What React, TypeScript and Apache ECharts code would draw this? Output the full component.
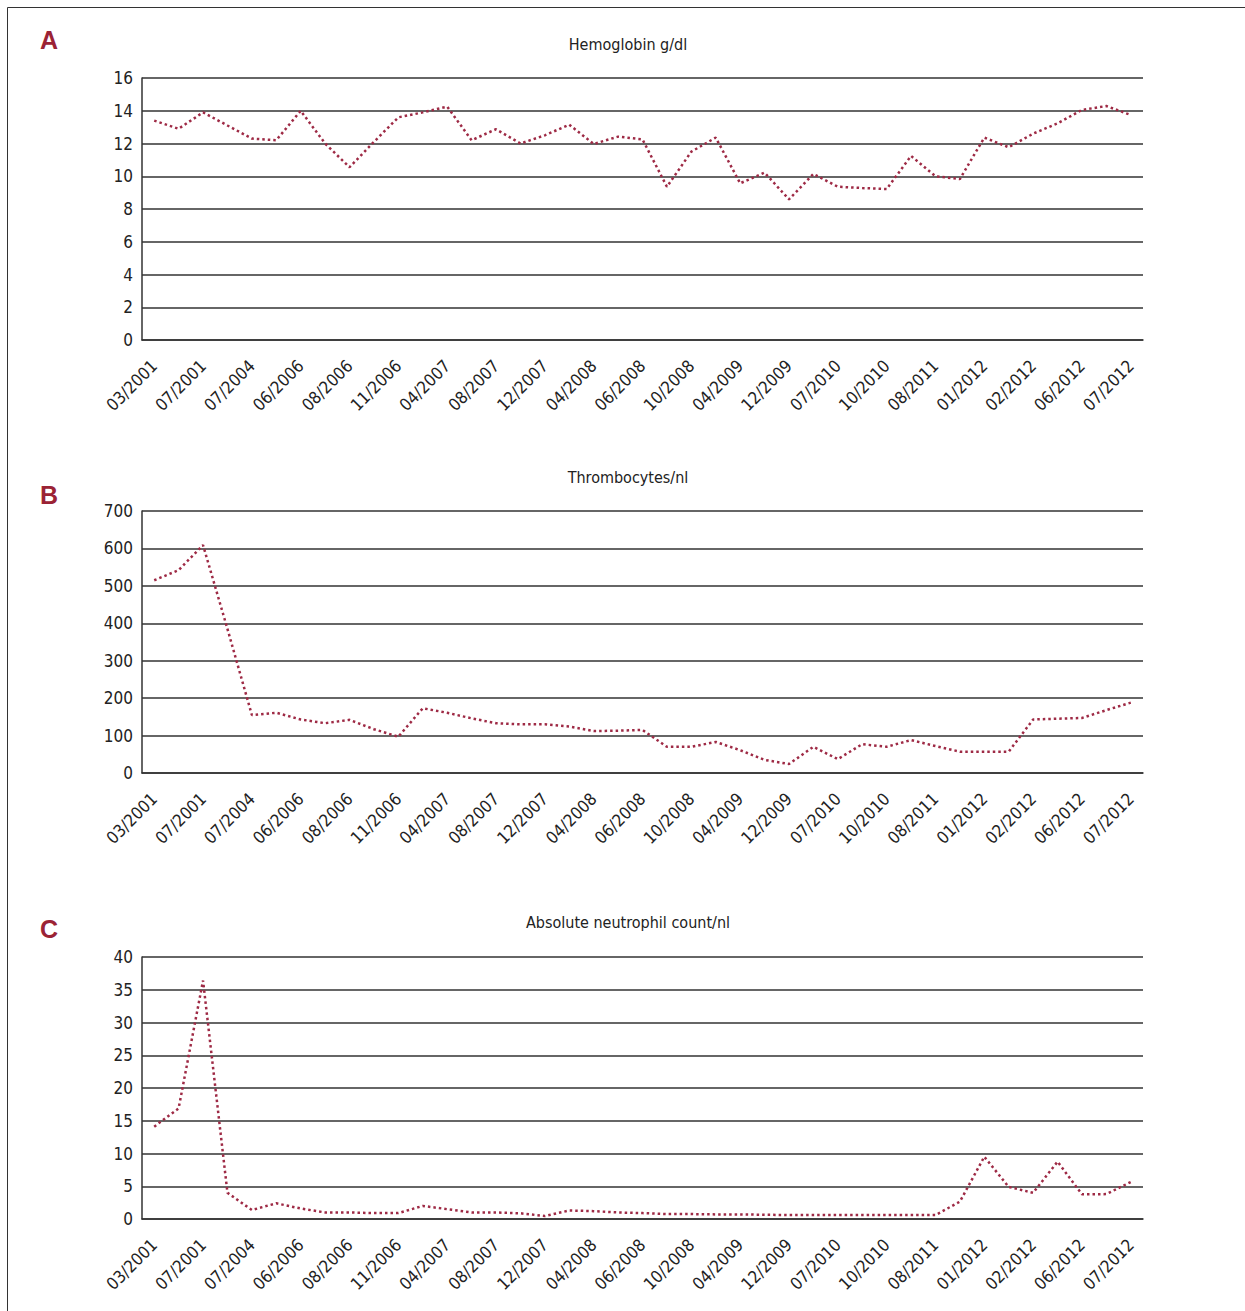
import React, { useEffect, useRef } from "react";
import * as echarts from "echarts";

const xLabels = ["03/2001","07/2001","07/2004","06/2006","08/2006","11/2006","04/2007","08/2007","12/2007","04/2008","06/2008","10/2008","04/2009","12/2009","07/2010","10/2010","08/2011","01/2012","02/2012","06/2012","07/2012"];

const hemoglobin = [13.4,12.9,13.9,13.1,12.3,12.2,14.0,12.0,10.55,12.1,13.6,13.9,14.25,12.2,12.87,12.0,12.5,13.15,11.97,12.42,12.25,9.36,11.5,12.36,9.57,10.22,8.59,10.14,9.36,9.28,9.22,11.24,10.0,9.83,12.36,11.77,12.6,13.23,14.05,14.29,13.74];

const thrombocytes = [515,542,609,385,155,161,143,133,142,117,97,173,161,146,133,130,130,124,112,113,115,70,70,83,61,35,24,70,37,77,70,88,72,57,57,57,143,145,147,168,188];

const neutrophils = [14.1,16.9,36.4,4.0,1.37,2.4,1.6,1.0,1.0,0.9,0.9,2.0,1.5,1.0,1.0,0.87,0.45,1.3,1.2,1.0,0.9,0.75,0.75,0.7,0.7,0.65,0.6,0.6,0.6,0.6,0.6,0.6,0.6,2.65,9.5,4.9,4.0,8.75,3.77,3.8,5.65];

const panelTitles = ["Hemoglobin g/dl", "Thrombocytes/nl", "Absolute neutrophil count/nl"];
const panelLetters = ["A", "B", "C"];
const yMax = [16, 700, 40];
const yStep = [2, 100, 5];

const FONT = "'Liberation Sans Narrow', 'DejaVu Sans Condensed', 'Roboto Condensed', sans-serif";
const LINE_COLOR = "#9e2a45";
const GRID_COLOR = "#333";

export default function App() {
  const ref = useRef<HTMLDivElement>(null);
  useEffect(() => {
    if (!ref.current) return;
    const chart = echarts.init(ref.current, null, { renderer: "svg" });
    const categories: string[] = [];
    xLabels.forEach((l, i) => {
      categories.push(l);
      if (i < xLabels.length - 1) categories.push("");
    });
    const series = [hemoglobin, thrombocytes, neutrophils];
    const gridTops = [78, 511, 957];
    const titleTops = [36, 469, 914];
    const letterTops = [27, 482, 916];

    const option: any = {
      animation: false,
      backgroundColor: "#fff",
      title: panelTitles.map((t, i) => ({
        text: t,
        left: 628,
        top: titleTops[i],
        padding: 0,
        textAlign: "center",
        textStyle: { fontFamily: FONT, fontSize: 16, fontWeight: "normal", color: "#222" },
      })),
      grid: gridTops.map((top) => ({ left: 142, top, width: 1001, height: 262, containLabel: false })),
      xAxis: gridTops.map((_, i) => ({
        type: "category",
        gridIndex: i,
        data: categories,
        boundaryGap: true,
        axisTick: { show: false },
        axisLine: { show: true, lineStyle: { color: GRID_COLOR, width: 1.5 } },
        axisLabel: {
          interval: 0,
          rotate: 45,
          margin: 23,
          fontFamily: FONT,
          fontSize: 17,
          color: "#222",
        },
      })),
      yAxis: gridTops.map((_, i) => ({
        type: "value",
        gridIndex: i,
        min: 0,
        max: yMax[i],
        interval: yStep[i],
        axisTick: { show: false },
        axisLine: { show: true, lineStyle: { color: GRID_COLOR, width: 1.5 } },
        splitLine: { show: true, lineStyle: { color: GRID_COLOR, width: 1.5 } },
        axisLabel: { margin: 9, fontFamily: FONT, fontSize: 17, color: "#222" },
      })),
      series: series.map((d, i) => ({
        type: "line",
        xAxisIndex: i,
        yAxisIndex: i,
        data: d,
        symbol: "none",
        lineStyle: { color: LINE_COLOR, width: 2.5, type: [2.5, 3] },
      })),
      graphic: [
        { type: "line", shape: { x1: 7.5, y1: 7.5, x2: 1245, y2: 7.5 }, style: { stroke: "#333", lineWidth: 1 } },
        { type: "line", shape: { x1: 7.5, y1: 7.5, x2: 7.5, y2: 1311 }, style: { stroke: "#333", lineWidth: 1 } },
        ...panelLetters.map((l, i) => ({
          type: "text",
          x: 40,
          y: letterTops[i],
          style: { text: l, fontFamily: "'Liberation Sans', 'DejaVu Sans', sans-serif", fontSize: 25, fontWeight: "bold", fill: "#9b2335" },
        })),
      ],
    };
    chart.setOption(option);
    return () => chart.dispose();
  }, []);
  return <div ref={ref} style={{ position: "absolute", left: 0, top: 0, width: 1245, height: 1311 }} />;
}
